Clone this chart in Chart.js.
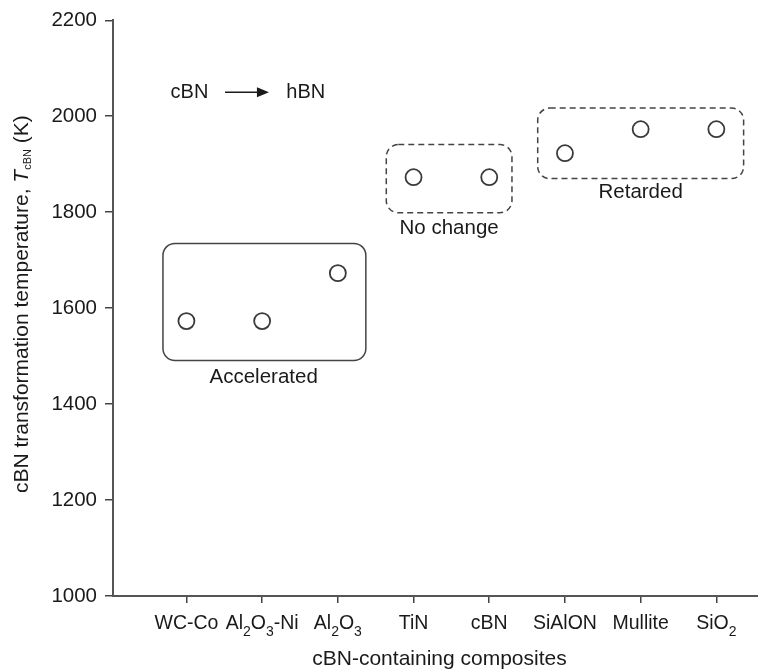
<!DOCTYPE html>
<html>
<head>
<meta charset="utf-8">
<script src="https://cdn.jsdelivr.net/npm/chart.js@4.4.0/dist/chart.umd.min.js"></script>
<style>
    html, body { margin: 0; padding: 0; background: #fff; }
    #wrap { width: 758px; height: 671px; }
</style>
</head>
<body>
<div id="wrap"><canvas id="chart" width="758" height="671"></canvas></div>
<script>
// data
const categories = ["WC-Co", "Al2O3-Ni", "Al2O3", "TiN", "cBN", "SiAlON", "Mullite", "SiO2"];
const temperatures = [1573, 1573, 1673, 1873, 1873, 1923, 1973, 1973];
const yTicks = [1000, 1200, 1400, 1600, 1800, 2000, 2200];

// grouping boxes, in data units
const groups = [
    { label: "Accelerated", x0: 0.69, x1: 3.37, y0: 1491, y1: 1735, dashed: false, lx: 2.02, ly: 1456 },
    { label: "No change", x0: 3.64, x1: 5.30, y0: 1799, y1: 1941, dashed: true, lx: 4.47, ly: 1766 },
    { label: "Retarded", x0: 5.64, x1: 8.36, y0: 1870, y1: 2017, dashed: true, lx: 7.00, ly: 1841 }
];

const FONT = "'Liberation Sans', Arial, Helvetica, sans-serif";
const INK = "#1a1a1a";
const LINE = "#444";

// text with digits as subscripts (Al2O3 etc.), centred on cx, baseline at by
function drawChem(ctx, text, cx, by, size) {
    const parts = text.split(/(\d+)/).filter(p => p !== "");
    const big = size + "px " + FONT;
    const small = Math.round(size * 0.7) + "px " + FONT;
    let w = 0;
    parts.forEach(p => {
        ctx.font = /\d/.test(p) ? small : big;
        w += ctx.measureText(p).width;
    });
    let x = cx - w / 2;
    ctx.textAlign = "left";
    ctx.textBaseline = "alphabetic";
    parts.forEach(p => {
        const sub = /\d/.test(p);
        ctx.font = sub ? small : big;
        ctx.fillText(p, x, sub ? by + 6.5 : by);
        x += ctx.measureText(p).width;
    });
}

const annotate = {
    id: "annotate",
    beforeDatasetsDraw(chart) {
        const ctx = chart.ctx;
        const xs = chart.scales.x;
        const ys = chart.scales.y;
        ctx.save();
        groups.forEach(g => {
            const left = xs.getPixelForValue(g.x0);
            const right = xs.getPixelForValue(g.x1);
            const top = ys.getPixelForValue(g.y1);
            const bottom = ys.getPixelForValue(g.y0);
            ctx.beginPath();
            ctx.roundRect(left, top, right - left, bottom - top, 12);
            ctx.strokeStyle = LINE;
            ctx.lineWidth = 1.5;
            ctx.setLineDash(g.dashed ? [6, 4] : []);
            ctx.stroke();
        });
        ctx.restore();
    },
    afterDraw(chart) {
        const ctx = chart.ctx;
        const xs = chart.scales.x;
        const ys = chart.scales.y;
        ctx.save();
        ctx.fillStyle = INK;

        // group labels
        ctx.font = "20.5px " + FONT;
        ctx.textAlign = "center";
        ctx.textBaseline = "middle";
        groups.forEach(g => {
            ctx.fillText(g.label, xs.getPixelForValue(g.lx), ys.getPixelForValue(g.ly));
        });

        // cBN -> hBN
        const ay = ys.getPixelForValue(2050);
        ctx.font = "20px " + FONT;
        ctx.textAlign = "left";
        ctx.fillText("cBN", xs.getPixelForValue(0.79), ay);
        ctx.fillText("hBN", xs.getPixelForValue(2.32), ay);
        const a0 = xs.getPixelForValue(1.51);
        const a1 = xs.getPixelForValue(2.09);
        ctx.strokeStyle = INK;
        ctx.lineWidth = 1.5;
        ctx.beginPath();
        ctx.moveTo(a0, ay);
        ctx.lineTo(a1 - 8, ay);
        ctx.stroke();
        ctx.beginPath();
        ctx.moveTo(a1, ay);
        ctx.lineTo(a1 - 12, ay - 5);
        ctx.lineTo(a1 - 12, ay + 5);
        ctx.closePath();
        ctx.fill();

        // x tick labels
        categories.forEach((c, i) => {
            drawChem(ctx, c, xs.getPixelForValue(i + 1), ys.bottom + 33, 19.5);
        });

        // x axis title
        ctx.font = "21px " + FONT;
        ctx.textAlign = "center";
        ctx.textBaseline = "middle";
        ctx.fillText("cBN-containing composites", (xs.left + xs.right) / 2 + 4, 659);

        // y axis title, rotated, with italic T and subscript cBN
        const cy = (ys.top + ys.bottom) / 2 - 4;
        ctx.translate(22, cy);
        ctx.rotate(-Math.PI / 2);
        const segs = [
            { t: "cBN transformation temperature, ", f: "21px " + FONT, dy: 0 },
            { t: "T", f: "italic 21px " + FONT, dy: 0 },
            { t: "cBN", f: "11px " + FONT, dy: 6 },
            { t: " (K)", f: "21px " + FONT, dy: 0 }
        ];
        let w = 0;
        segs.forEach(s => { ctx.font = s.f; w += ctx.measureText(s.t).width; });
        let x = -w / 2;
        ctx.textAlign = "left";
        segs.forEach(s => {
            ctx.font = s.f;
            ctx.fillText(s.t, x, s.dy);
            x += ctx.measureText(s.t).width;
        });
        ctx.restore();
    }
};

new Chart(document.getElementById("chart"), {
    type: "scatter",
    data: {
        datasets: [{
            data: temperatures.map((t, i) => ({ x: i + 1, y: t })),
            pointRadius: 8,
            pointHoverRadius: 8,
            pointBorderWidth: 1.8,
            pointBorderColor: "#3a3a3a",
            pointBackgroundColor: "#fff",
            showLine: false
        }]
    },
    options: {
        responsive: false,
        animation: false,
        devicePixelRatio: 1,
        layout: { autoPadding: false, padding: { top: 20, right: 0, left: 0, bottom: 0 } },
        plugins: {
            legend: { display: false },
            tooltip: { enabled: false }
        },
        scales: {
            x: {
                type: "linear",
                min: 0.03,
                max: 8.55,
                afterBuildTicks: s => { s.ticks = categories.map((c, i) => ({ value: i + 1 })); },
                afterFit: s => { s.height = 75; },
                ticks: { callback: () => "" },
                grid: { drawOnChartArea: false, drawTicks: true, tickLength: 7, color: LINE, lineWidth: 1.5 },
                border: { color: "#555", width: 2 }
            },
            y: {
                min: 1000,
                max: 2200,
                afterBuildTicks: s => { s.ticks = yTicks.map(v => ({ value: v })); },
                afterFit: s => { s.width = 113; },
                ticks: { color: INK, font: { family: FONT, size: 20.5 }, padding: 8, callback: v => String(v) },
                grid: { drawOnChartArea: false, drawTicks: true, tickLength: 8, color: LINE, lineWidth: 1.5 },
                border: { color: "#555", width: 2 }
            }
        }
    },
    plugins: [annotate]
});
</script>
</body>
</html>
